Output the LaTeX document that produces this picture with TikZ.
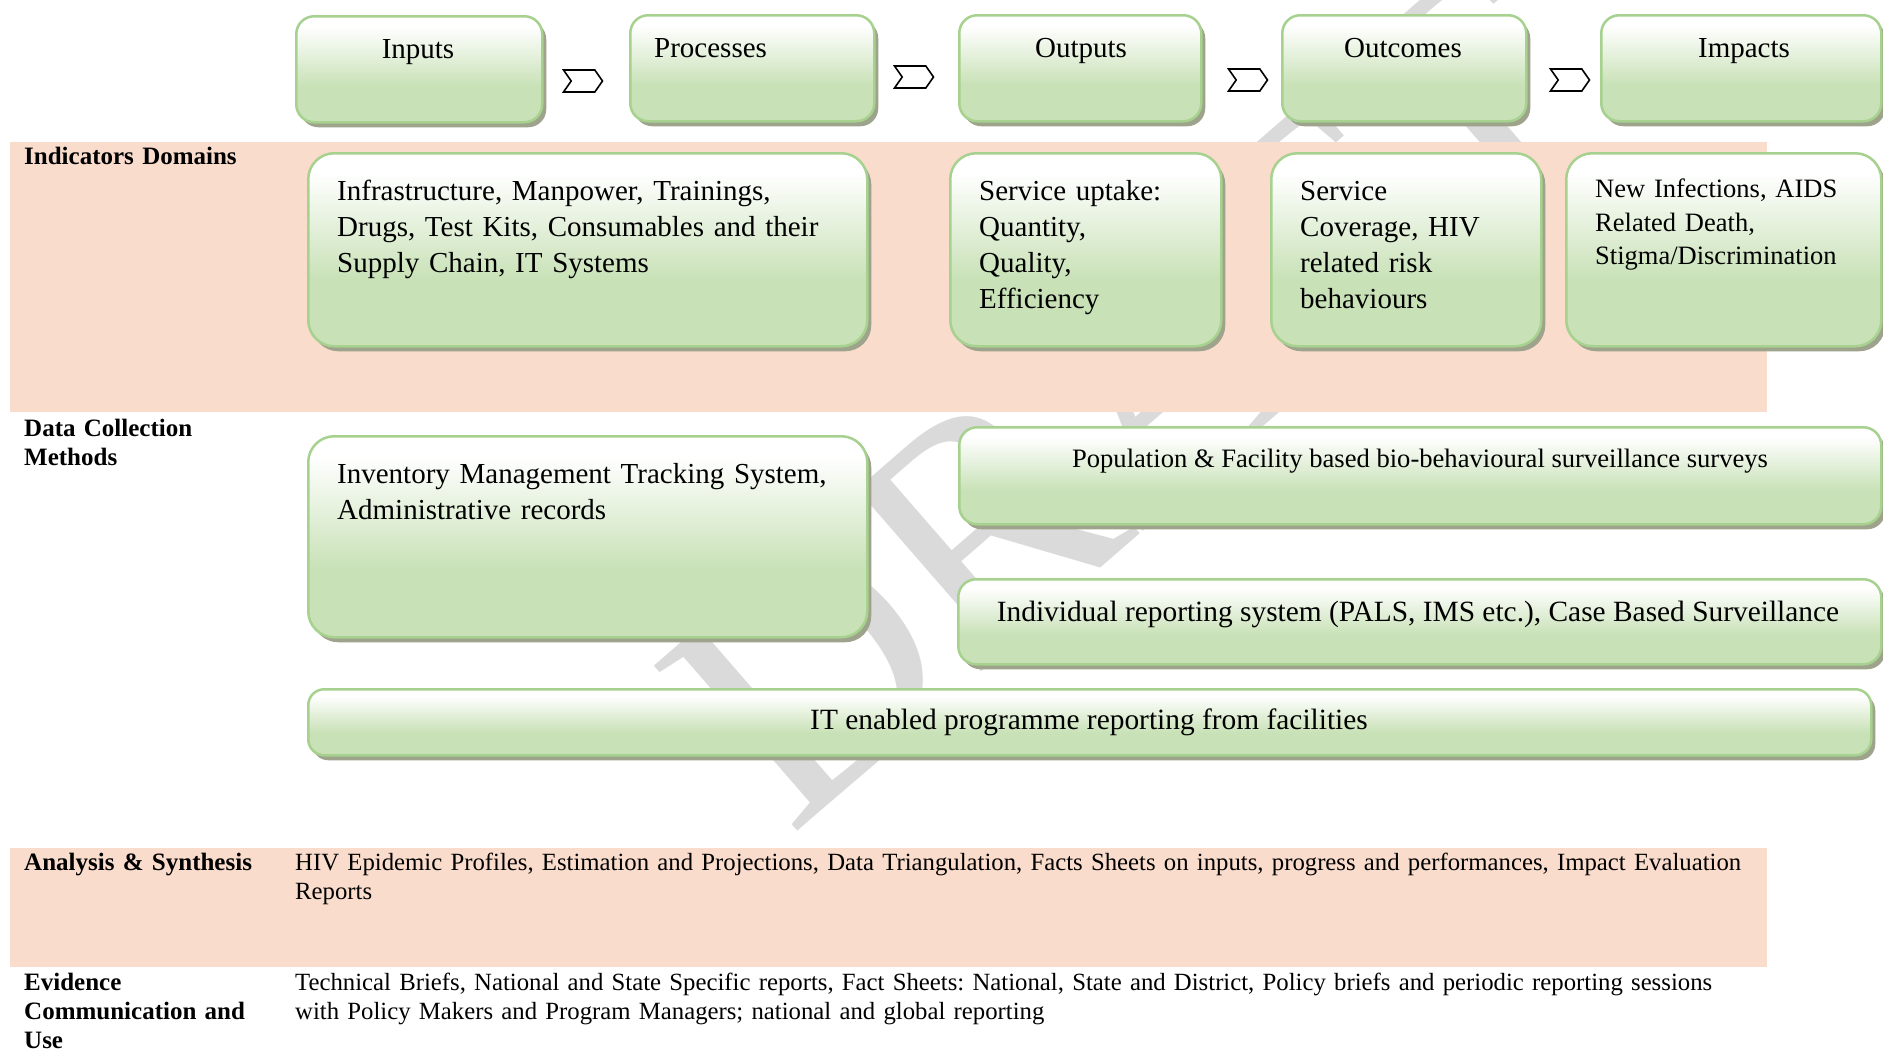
\documentclass[tikz,border=0pt]{standalone}
\usepackage{fontspec}
\setmainfont{Liberation Serif}
\usetikzlibrary{shapes.symbols,shadows}
\frenchspacing

\definecolor{peach}{HTML}{F9DCCC}
\definecolor{gedge}{HTML}{A6D18E}
\definecolor{gfill}{HTML}{C8E1B6}
\definecolor{gshadow}{HTML}{9EA38B}
\definecolor{wmark}{HTML}{DADADA}

% white at the top of a box fading into pale green towards the bottom
\pgfdeclareverticalshading{greenfade}{100bp}{color(0bp)=(gfill); color(42bp)=(gfill); color(70bp)=(white); color(100bp)=(white)}

\tikzset{
  gbox/.style={draw=gedge, line width=2.5pt, shading=greenfade, rounded corners=#1,
    drop shadow={shadow xshift=4pt, shadow yshift=-5pt, fill=gshadow, opacity=1},
    inner sep=0pt, anchor=north west},
  gbox/.default=18pt,
  chev/.style={signal, signal from=west, signal to=east, signal pointer angle=110,
    draw=black, line width=1.6pt, fill=white, minimum width=39pt, minimum height=22pt,
    inner sep=0pt},
  bigtext/.style={font=\fontsize{29}{36}\selectfont, inner sep=0pt},
  widetext/.style={font=\fontsize{29.4}{36}\selectfont, inner sep=0pt},
  midtext/.style={font=\fontsize{26.5}{33.6}\selectfont, inner sep=0pt},
  surveytext/.style={font=\fontsize{26.6}{32}\selectfont, inner sep=0pt},
  smalltext/.style={font=\fontsize{24.75}{29}\selectfont, inner sep=0pt},
  leftpar/.style={align=left, anchor=base west, text width=#1},
  rowlabel/.style={font=\fontsize{25}{29}\selectfont\bfseries, inner sep=0pt,
    text width=260pt, align=left, anchor=base west},
}

\begin{document}
\begin{tikzpicture}[x=1pt, y=-1pt]
\useasboundingbox (0,0) rectangle (1883,1052);
\clip (0,0) rectangle (1883,1052);
\fill[white] (0,0) rectangle (1883,1052);

% page watermark
\node[font=\fontsize{334}{334}\selectfont, text=wmark, inner sep=0pt,
      anchor=base west, rotate=41] (draftmark) at (790,838) {DRAFT};

% shaded bands
\fill[peach] (10,142) rectangle (1767,412);
\fill[peach] (10,848) rectangle (1767,967);

% results chain
\node[gbox, minimum width=246pt, minimum height=106pt] (inputs) at (295,15) {};
\node[gbox, minimum width=244pt, minimum height=106pt] (processes) at (629,14) {};
\node[gbox, minimum width=242pt, minimum height=106pt] (outputs) at (958,14) {};
\node[gbox, minimum width=244pt, minimum height=106pt] (outcomes) at (1281,14) {};
\node[gbox, minimum width=280pt, minimum height=106pt] (impacts) at (1600,14) {};

\node[bigtext, anchor=base] (inputsT) at (418,58.5) {Inputs};
\node[bigtext, anchor=base west] (processesT) at (654,57.5) {Processes};
\node[bigtext, anchor=base] (outputsT) at (1081,57.5) {Outputs};
\node[bigtext, anchor=base] (outcomesT) at (1403,57.5) {Outcomes};
\node[bigtext, anchor=base] (impactsT) at (1744,57.5) {Impacts};

\node[chev] (chev1) at (583,81) {};
\node[chev] (chev2) at (914,77) {};
\node[chev] (chev3) at (1248,80) {};
\node[chev] (chev4) at (1570,80) {};

% indicator domains
\node[gbox=26pt, minimum width=559pt, minimum height=193pt] (infra) at (307,152) {};
\node[gbox=26pt, minimum width=271pt, minimum height=193pt] (uptake) at (949,152) {};
\node[gbox=26pt, minimum width=270pt, minimum height=193pt] (coverage) at (1270,152) {};
\node[gbox=26pt, minimum width=315pt, minimum height=193pt] (newinf) at (1565,152) {};

\node[bigtext, leftpar=520pt] (infraT) at (337,200.2)
  {Infrastructure, Manpower, Trainings,\\Drugs, Test Kits, Consumables and their\\Supply Chain, IT Systems};
\node[bigtext, leftpar=235pt] (uptakeT) at (979,200.2)
  {Service uptake:\\Quantity,\\Quality,\\Efficiency};
\node[bigtext, leftpar=235pt] (coverageT) at (1300,200.2)
  {Service\\Coverage, HIV\\related risk\\behaviours};
\node[midtext, leftpar=300pt] (newinfT) at (1595,197.5)
  {New Infections, AIDS\\Related Death,\\Stigma/Discrimination};

% data collection methods
\node[gbox=26pt, minimum width=559pt, minimum height=201pt] (inventory) at (307,435) {};
\node[gbox=18pt, minimum width=922pt, minimum height=97pt] (population) at (958,426) {};
\node[gbox=18pt, minimum width=923pt, minimum height=85pt] (individual) at (957,578) {};
\node[gbox=16pt, minimum width=1563pt, minimum height=66pt] (itreport) at (307,688) {};

\node[bigtext, leftpar=540pt] (inventoryT) at (337,483.4)
  {Inventory Management Tracking System,\\Administrative records};
\node[surveytext, anchor=base] (populationT) at (1420,467.2)
  {Population \& Facility based bio-behavioural surveillance surveys};
\node[widetext, anchor=base] (individualT) at (1418,621.4)
  {Individual reporting system (PALS, IMS etc.), Case Based Surveillance};
\node[widetext, anchor=base] (itreportT) at (1089,729.4)
  {IT enabled programme reporting from facilities};

% row labels
\node[rowlabel] (lblInd) at (24,164.2) {Indicators Domains};
\node[rowlabel] (lblData) at (24,436.2) {Data Collection\\Methods};
\node[rowlabel] (lblAna) at (24,870.2) {Analysis \& Synthesis};
\node[rowlabel] (lblEvi) at (24,990.2) {Evidence\\Communication and\\Use};

% free text rows
\node[smalltext, leftpar=1560pt] (anaT) at (295,870.2)
  {HIV Epidemic Profiles, Estimation and Projections, Data Triangulation, Facts Sheets on inputs, progress and performances, Impact Evaluation\\Reports};
\node[smalltext, leftpar=1560pt] (eviT) at (295,990.2)
  {Technical Briefs, National and State Specific reports, Fact Sheets: National, State and District, Policy briefs and periodic reporting sessions\\with Policy Makers and Program Managers; national and global reporting};
\end{tikzpicture}
\end{document}
